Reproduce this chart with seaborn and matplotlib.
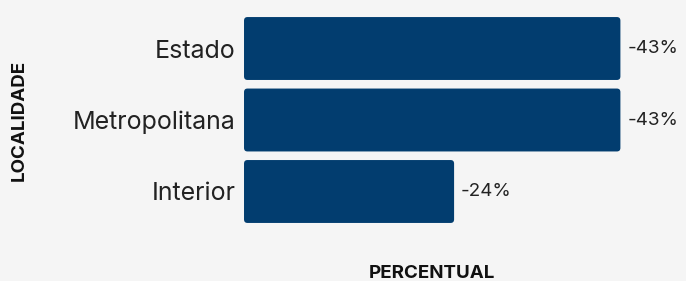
import pandas as pd
import matplotlib.pyplot as plt
import seaborn as sns
from matplotlib.patches import FancyBboxPatch

# Dados
localidades = ["Estado", "Metropolitana", "Interior"]
variacao = [-43, -43, -24]
rotulos = ["-43%", "-43%", "-24%"]

df = pd.DataFrame({"localidade": localidades, "variacao": variacao})
df["tamanho"] = df["variacao"].abs()

sns.set_style("white")
plt.rcParams["font.family"] = ["Inter", "DejaVu Sans"]

fundo = "#f5f5f5"
azul = "#023d6f"

fig = plt.figure(figsize=(6.86, 2.81), dpi=100, facecolor=fundo)
ax = fig.add_axes([0.3557, 0.1913, 0.638, 0.7633])
ax.set_facecolor(fundo)

sns.barplot(data=df, x="tamanho", y="localidade", color=azul, width=0.88,
            saturation=1, ax=ax)
ax.set_xlim(0, 50)

# cantos arredondados
for p in list(ax.patches):
    x0, y0, w, h = p.get_x(), p.get_y(), p.get_width(), p.get_height()
    p.remove()
    ax.add_patch(FancyBboxPatch((x0, y0), w, h, boxstyle="round,pad=0,rounding_size=0.4",
                                mutation_aspect=0.125, facecolor=azul, edgecolor="none"))

for i, txt in enumerate(rotulos):
    ax.annotate(txt, (df["tamanho"][i], i), xytext=(5, 0), textcoords="offset points",
                va="center", ha="left", fontsize=13.5, color="#222222")

for s in ax.spines.values():
    s.set_visible(False)
ax.set_xticks([])
ax.tick_params(axis="y", length=0, pad=6, labelsize=18, labelcolor="#222222")

ax.set_ylabel("")
ax.set_xlabel("")
fig.text(0.028, 0.573, "LOCALIDADE", rotation=90, ha="center", va="center",
         fontsize=13.5, fontweight="bold", color="#111111")
fig.text(0.63, 0.028, "PERCENTUAL", ha="center", va="center",
         fontsize=13.5, fontweight="bold", color="#111111")

fig.savefig("out.png", dpi=100, facecolor=fundo)
